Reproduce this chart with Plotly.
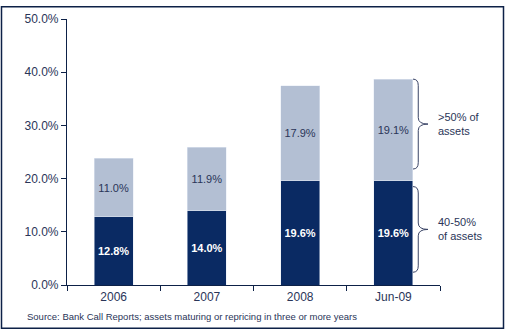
import plotly.graph_objects as go

categories = ["2006", "2007", "2008", "Jun-09"]
share_40_50 = [12.8, 14.0, 19.6, 19.6]
share_over_50 = [11.0, 11.9, 17.9, 19.1]
y_ticks = [0, 10, 20, 30, 40, 50]
brace_labels = [">50% of<br>assets", "40-50%<br>of assets"]
source_note = "Source: Bank Call Reports; assets maturing or repricing in three or more years"

W, H = 506, 331
ML, MR, MT, MB = 67, 66, 14, 46
PW = W - ML - MR
PH = H - MT - MB

DARK = "#0a2a63"
LIGHT = "#b3bfd3"
TXT = "#2a3558"

fig = go.Figure()
fig.add_trace(go.Bar(
    x=categories, y=share_40_50, marker_color=DARK, width=0.42,
    text=[f"{v:.1f}%" for v in share_40_50], textposition="inside",
    insidetextanchor="middle",
    textfont=dict(color="white", size=11, family="Liberation Sans"),
    texttemplate="<b>%{text}</b>", hoverinfo="skip",
))
fig.add_trace(go.Bar(
    x=categories, y=share_over_50, marker_color=LIGHT, width=0.42,
    text=[f"{v:.1f}%" for v in share_over_50], textposition="inside",
    insidetextanchor="middle",
    textfont=dict(color=TXT, size=11, family="Liberation Sans"),
    hoverinfo="skip",
))

def px_to_paper_x(px):
    return (px - ML) / PW

def px_to_paper_y(py):
    return (H - MB - py) / PH

def brace(y0, y1, xa, xb, d=1.2):
    ym = (y0 + y1) / 2
    xc = xa + (xb - xa) * 0.35
    return (f"M {xa},{y1} Q {xc},{y1} {xc},{y1-d} L {xc},{ym+d} "
            f"Q {xc},{ym} {xb},{ym} Q {xc},{ym} {xc},{ym-d} "
            f"L {xc},{y0+d} Q {xc},{y0} {xa},{y0}")

last_low = share_40_50[-1]
last_top = share_40_50[-1] + share_over_50[-1]
xa = px_to_paper_x(413)
xb = px_to_paper_x(428)
shapes = [
    dict(type="path", xref="paper", yref="y",
         path=brace(last_low + 2.2, last_top, xa, xb),
         line=dict(color="#3a4466", width=1)),
    dict(type="path", xref="paper", yref="y",
         path=brace(2.4, last_low - 1.1, xa, xb),
         line=dict(color="#3a4466", width=1)),
    dict(type="rect", xref="paper", yref="paper",
         x0=px_to_paper_x(1.5), x1=px_to_paper_x(503.5),
         y0=px_to_paper_y(329), y1=px_to_paper_y(1.5),
         line=dict(color="#0d2147", width=1.5)),
]

annotations = [
    dict(x=px_to_paper_x(436), xref="paper", y=(last_low + 2.2 + last_top) / 2, yref="y",
         text=brace_labels[0], showarrow=False, xanchor="left", align="left",
         font=dict(size=11, color=TXT, family="Liberation Sans")),
    dict(x=px_to_paper_x(436), xref="paper", y=(2.4 + last_low - 1.1) / 2, yref="y",
         text=brace_labels[1], showarrow=False, xanchor="left", align="left",
         font=dict(size=11, color=TXT, family="Liberation Sans")),
    dict(x=px_to_paper_x(25), xref="paper", y=px_to_paper_y(317), yref="paper",
         text=source_note, showarrow=False, xanchor="left", yanchor="middle",
         font=dict(size=9.5, color=TXT, family="Liberation Sans")),
]

fig.update_layout(
    barmode="stack", width=W, height=H, showlegend=False,
    margin=dict(l=ML, r=MR, t=MT, b=MB),
    paper_bgcolor="white", plot_bgcolor="white",
    font=dict(family="Liberation Sans", color=TXT, size=12),
    shapes=shapes, annotations=annotations,
)
fig.update_xaxes(
    showline=True, linecolor="#0d2147", linewidth=1.2,
    ticks="outside", tickson="boundaries", ticklen=5, tickcolor="#0d2147",
    tickfont=dict(size=12, color=TXT), showgrid=False,
)
fig.update_yaxes(
    range=[0, 50], tickvals=y_ticks, ticktext=[f"{v:.1f}%" for v in y_ticks],
    showline=True, linecolor="#0d2147", linewidth=1.2,
    ticks="outside", ticklen=5, tickcolor="#0d2147",
    tickfont=dict(size=12, color=TXT), showgrid=False, zeroline=False,
)

fig.write_html("out.html")
